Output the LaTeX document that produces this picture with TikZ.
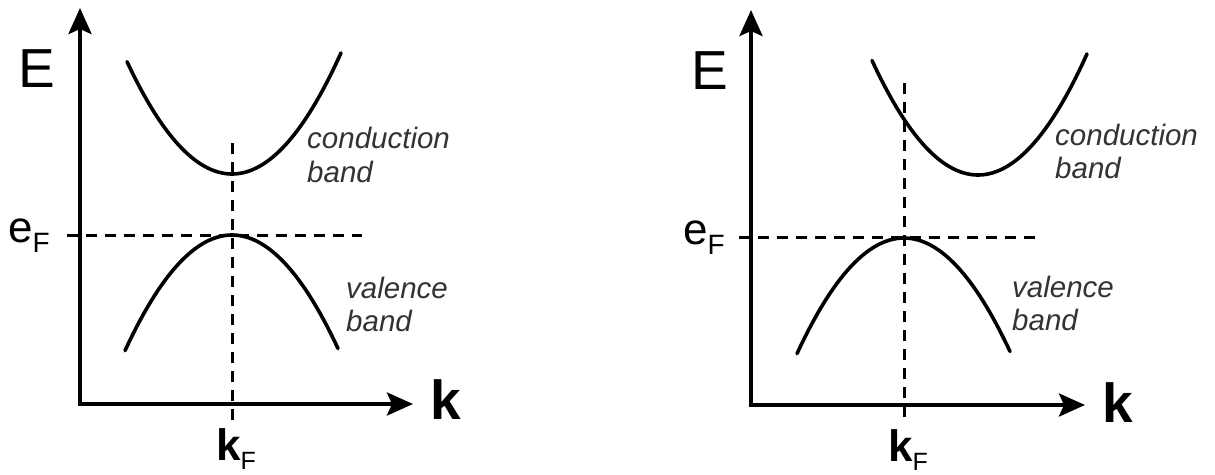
\documentclass[tikz,border=0pt]{standalone}
\usepackage{fontspec}
\setmainfont{Liberation Sans}
\usetikzlibrary{arrows.meta}
\begin{document}
\begin{tikzpicture}[x=1pt,y=-1pt,
  axis/.style={line width=4pt,line cap=rect,-{Stealth[length=26pt,width=23pt,inset=5pt]}},
  bandline/.style={line width=3.6pt,line cap=round},
  guide/.style={line width=3pt,dash pattern=on 11pt off 8pt},
  bandlabel/.style={anchor=base west,inner sep=0pt,text=black!80,font=\fontsize{29.5}{34}\selectfont\itshape},
  biglabel/.style={anchor=center,inner sep=0pt,font=\fontsize{55}{55}\selectfont},
  sublabel/.style={anchor=base west,inner sep=0pt,font=\fontsize{44}{44}\selectfont}]
\path[use as bounding box] (0,0) rectangle (1215,474);

% ---------- left panel ----------
\coordinate (o1) at (80,404);
\coordinate (yt1) at (80,8);
\coordinate (xt1) at (413,404);
\coordinate (et1) at (67,235);
\coordinate (ee1) at (362,235);
\coordinate (kt1) at (232,143);
\coordinate (kb1) at (232,420);
\draw[axis] (o1) -- (yt1);
\draw[axis] (o1) -- (xt1);
\draw[guide] (et1) -- (ee1);
\draw[guide] (kt1) -- (kb1);
\draw[bandline] plot[domain=-105:109,samples=80] ({232+\x},{174-0.0102*\x*\x});
\draw[bandline] plot[domain=-107:106,samples=80] ({232+\x},{235+0.0101*\x*\x});
\node[biglabel] (E1) at (37,69) {E};
\node[biglabel,font=\fontsize{55}{55}\selectfont\bfseries] (k1) at (446,400) {k};
\node[sublabel] (eF1) at (8,242) {e\raisebox{-10pt}{\fontsize{28}{28}\selectfont F}};
\node[sublabel] (kF1) at (216,460) {\bfseries k\raisebox{-9pt}{\fontsize{25}{25}\selectfont\mdseries F}};
\node[bandlabel] (c1a) at (307,148) {conduction};
\node[bandlabel] (c1b) at (307,182) {band};
\node[bandlabel] (v1a) at (346,298) {valence};
\node[bandlabel] (v1b) at (346,331) {band};

% ---------- right panel ----------
\coordinate (o2) at (751,405);
\coordinate (yt2) at (751,10);
\coordinate (xt2) at (1085,405);
\coordinate (et2) at (739,237);
\coordinate (ee2) at (1035,237);
\coordinate (kt2) at (904,83);
\coordinate (kb2) at (904,420);
\draw[axis] (o2) -- (yt2);
\draw[axis] (o2) -- (xt2);
\draw[guide] (et2) -- (ee2);
\draw[guide] (kt2) -- (kb2);
\draw[bandline] plot[domain=-106:109,samples=80] ({978+\x},{175-0.0102*\x*\x});
\draw[bandline] plot[domain=-107:106,samples=80] ({904+\x},{238+0.0101*\x*\x});
\node[biglabel] (E2) at (710,71) {E};
\node[biglabel,font=\fontsize{55}{55}\selectfont\bfseries] (k2) at (1118,403) {k};
\node[sublabel] (eF2) at (683,244) {e\raisebox{-10pt}{\fontsize{28}{28}\selectfont F}};
\node[sublabel] (kF2) at (888,461) {\bfseries k\raisebox{-9pt}{\fontsize{25}{25}\selectfont\mdseries F}};
\node[bandlabel] (c2a) at (1055,145) {conduction};
\node[bandlabel] (c2b) at (1055,178) {band};
\node[bandlabel] (v2a) at (1012,297) {valence};
\node[bandlabel] (v2b) at (1012,330) {band};
\end{tikzpicture}
\end{document}
